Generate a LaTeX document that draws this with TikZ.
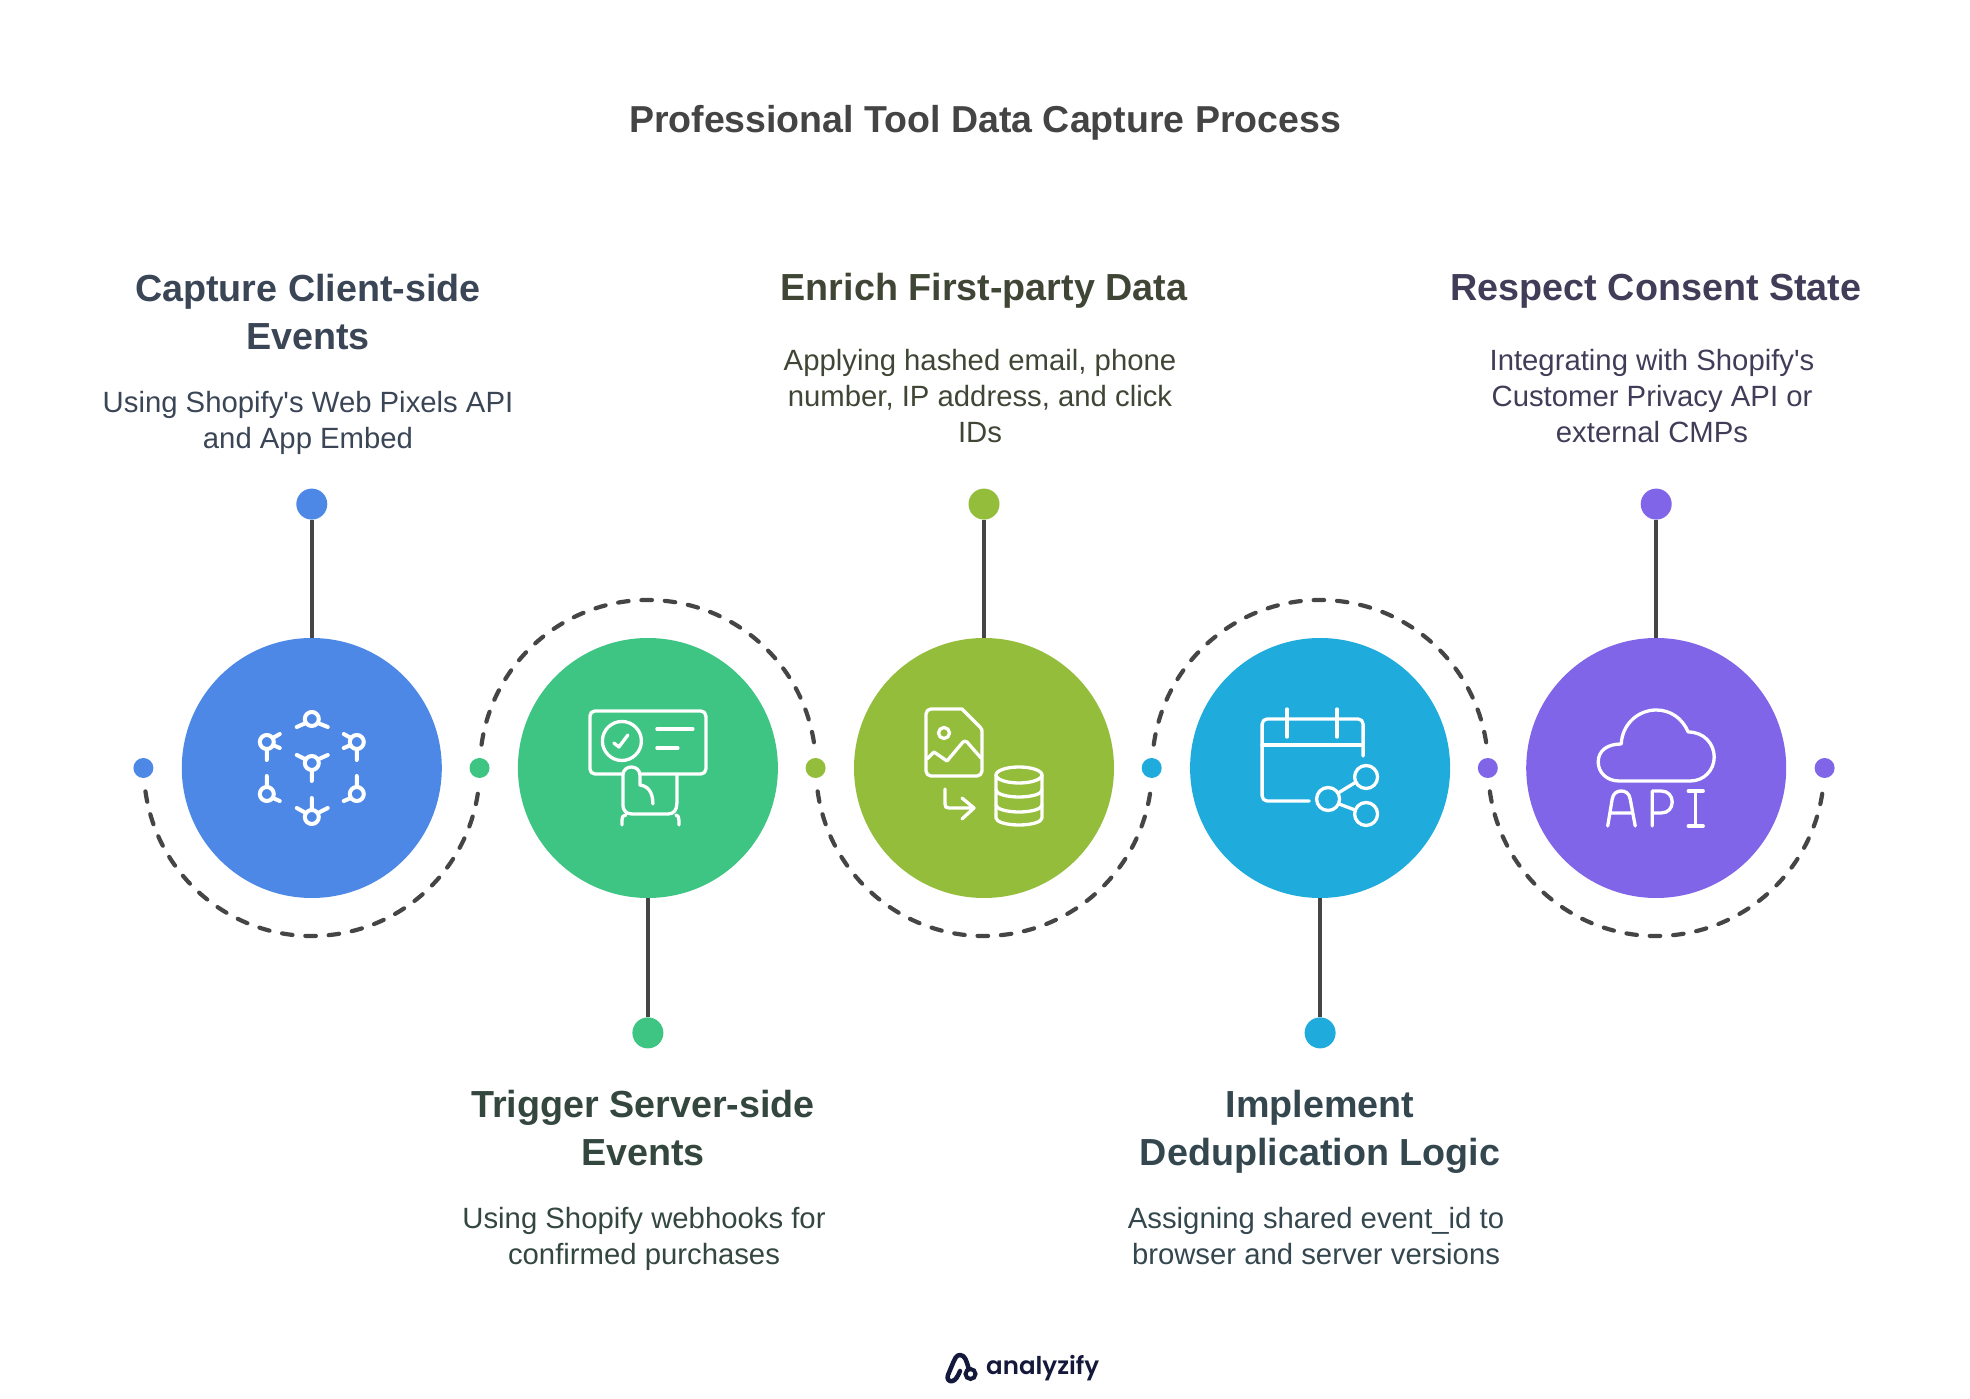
\documentclass[tikz,border=0pt]{standalone}
\usepackage{xcolor}
\usepackage{fontspec}
\setmainfont{Liberation Sans}[Ligatures=TeXOff]
\newfontfamily\logofont{Poppins SemiBold}
\usetikzlibrary{positioning, calc}

\definecolor{capBlue}{HTML}{4E88E7}
\definecolor{trigGreen}{HTML}{3EC583}
\definecolor{enrichOlive}{HTML}{93BD3B}
\definecolor{dedupCyan}{HTML}{1FABDC}
\definecolor{consentPurple}{HTML}{8065E9}
\definecolor{lineGrey}{HTML}{454545}
\definecolor{titleGrey}{HTML}{444444}
\definecolor{capText}{HTML}{3A4556}
\definecolor{trigText}{HTML}{34473F}
\definecolor{enrichText}{HTML}{3F4635}
\definecolor{dedupText}{HTML}{34474F}
\definecolor{consentText}{HTML}{413D58}
\definecolor{logoNavy}{HTML}{14183A}

\begin{document}
\begin{tikzpicture}[
    x=1pt, y=1pt,
    hub/.style={circle, minimum size=260pt, inner sep=0pt},
    tipdot/.style={circle, minimum size=31pt, inner sep=0pt},
    axisdot/.style={circle, minimum size=20pt, inner sep=0pt},
    stem/.style={draw=lineGrey, line width=4.2pt},
    dashlink/.style={draw=lineGrey, line width=4.2pt, line cap=round, dash pattern=on 10.5pt off 12.9pt},
    icon/.style={draw=white, line width=3.3pt, line cap=round, line join=round},
    headtext/.style={anchor=north, align=center, inner sep=0pt, font=\fontsize{37.7}{48}\selectfont\bfseries, execute at begin node=\strut, execute at end node=\strut},
    bodytext/.style={anchor=north, align=center, inner sep=0pt, font=\fontsize{29.3}{36}\selectfont, execute at begin node=\strut, execute at end node=\strut}
]
    \useasboundingbox (0,0) rectangle (1970,1398);

    % Title
    \node[font=\fontsize{37.5}{44}\selectfont\bfseries, text=titleGrey, inner sep=0pt] (title) at (985,1275) {Professional Tool Data Capture Process};

    % Circles
    \node[hub, fill=capBlue] (capture) at (311.8,630) {};
    \node[hub, fill=trigGreen, right=75.7pt of capture] (trigger) {};
    \node[hub, fill=enrichOlive, right=75.7pt of trigger] (enrich) {};
    \node[hub, fill=dedupCyan, right=75.7pt of enrich] (dedup) {};
    \node[hub, fill=consentPurple, right=75.7pt of dedup] (consent) {};

    % Small dots on the axis
    \node[axisdot, fill=capBlue, left=28pt of capture] (captureLeft) {};
    \node[axisdot, fill=trigGreen, left=28pt of trigger] (triggerLeft) {};
    \node[axisdot, fill=enrichOlive, left=28pt of enrich] (enrichLeft) {};
    \node[axisdot, fill=dedupCyan, left=28pt of dedup] (dedupLeft) {};
    \node[axisdot, fill=consentPurple, left=28pt of consent] (consentLeft) {};
    \node[axisdot, fill=consentPurple, right=28pt of consent] (consentRight) {};

    % Dashed arcs
    \draw[dashlink] ($(capture)+(188:168pt)$) arc[start angle=188, end angle=352, radius=168pt];
    \draw[dashlink] ($(trigger)+(172:168pt)$) arc[start angle=172, end angle=8, radius=168pt];
    \draw[dashlink] ($(enrich)+(188:168pt)$) arc[start angle=188, end angle=352, radius=168pt];
    \draw[dashlink] ($(dedup)+(172:168pt)$) arc[start angle=172, end angle=8, radius=168pt];
    \draw[dashlink] ($(consent)+(188:168pt)$) arc[start angle=188, end angle=352, radius=168pt];

    % Tips and stems
    \node[tipdot, fill=capBlue, above=118pt of capture] (captureTip) {};
    \node[tipdot, fill=trigGreen, below=119pt of trigger] (triggerTip) {};
    \node[tipdot, fill=enrichOlive, above=118pt of enrich] (enrichTip) {};
    \node[tipdot, fill=dedupCyan, below=119pt of dedup] (dedupTip) {};
    \node[tipdot, fill=consentPurple, above=118pt of consent] (consentTip) {};
    \draw[stem] (capture) -- (captureTip);
    \draw[stem] (trigger) -- (triggerTip);
    \draw[stem] (enrich) -- (enrichTip);
    \draw[stem] (dedup) -- (dedupTip);
    \draw[stem] (consent) -- (consentTip);

    % Labels
    \node[headtext, text=capText] (captureHead) at (308,1124.2) {Capture Client-side\\Events};
    \node[bodytext, text=capText, below=27.5pt of captureHead] (captureBody) {Using Shopify's Web Pixels API\\and App Embed};
    \node[headtext, text=trigText] (triggerHead) at (643,308) {Trigger Server-side\\Events};
    \node[bodytext, text=trigText, below=27pt of triggerHead, xshift=1pt] (triggerBody) {Using Shopify webhooks for\\confirmed purchases};
    \node[headtext, text=enrichText] (enrichHead) at (984,1131.5) {Enrich First-party Data};
    \node[bodytext, text=enrichText, below=34.5pt of enrichHead, xshift=-4pt] (enrichBody) {Applying hashed email, phone\\number, IP address, and click\\IDs};
    \node[headtext, text=dedupText] (dedupHead) at (1320,308) {Implement\\Deduplication Logic};
    \node[bodytext, text=dedupText, below=27pt of dedupHead, xshift=-4pt] (dedupBody) {Assigning shared event\_id to\\browser and server versions};
    \node[headtext, text=consentText] (consentHead) at (1656,1131.5) {Respect Consent State};
    \node[bodytext, text=consentText, below=34.5pt of consentHead, xshift=-4pt] (consentBody) {Integrating with Shopify's\\Customer Privacy API or\\external CMPs};

    % Icon: network
    \begin{scope}[shift={(capture.center)}, icon/.append style={line width=4pt}]
        \draw[icon] (0,5) circle[radius=7] (-15,13) -- (-6,8.5) (16,13) -- (6,8.5) (0,-13) -- (0,-2);
        \draw[icon] (0,49) circle[radius=7] (-15,41) -- (-6,45) (16,41) -- (6,45);
        \draw[icon] (0,-49) circle[radius=7] (0,-30) -- (0,-42) (-15,-40) -- (-6,-45) (16,-40) -- (6,-45);
        \draw[icon] (-45,26) circle[radius=7] (-45,8) -- (-45,19) (-32,34) -- (-39,30) (-32,20) -- (-39,23);
        \draw[icon] (45,26) circle[radius=7] (45,8) -- (45,19) (32,34) -- (39,30) (32,20) -- (39,23);
        \draw[icon] (-45,-26) circle[radius=7] (-45,-8) -- (-45,-19) (-32,-33) -- (-39,-30);
        \draw[icon] (45,-26) circle[radius=7] (45,-8) -- (45,-19) (32,-33) -- (39,-30);
    \end{scope}

    % Icon: screen and hand
    \begin{scope}[shift={(trigger.center)}]
        \draw[icon] (-25,-6) -- (-53,-6) arc[start angle=270, end angle=180, radius=5] -- (-58,52) arc[start angle=180, end angle=90, radius=5] -- (53,57) arc[start angle=90, end angle=0, radius=5] -- (58,-1) arc[start angle=0, end angle=-90, radius=5] -- (-8,-6);
        \draw[icon] (-26,27) circle[radius=19.5];
        \draw[icon] (-34,25) -- (-29,21) -- (-20,33);
        \draw[icon] (9,39) -- (45,39) (9,20) -- (30,20);
        \draw[icon] (29,-7) -- (29,-35) .. controls (29,-42) and (26,-46) .. (20,-46) -- (-16,-46) .. controls (-22,-46) and (-25,-42) .. (-25,-37) -- (-25,-7) .. controls (-25,-2) and (-21,1) .. (-16.5,1) .. controls (-12,1) and (-8,-2) .. (-8,-7) -- (-8,-17) .. controls (0,-18) and (5,-24) .. (5,-36);
        \draw[icon] (-26,-57) -- (-26,-52) .. controls (-26,-49) and (-25,-47) .. (-22,-47) (31,-57) -- (31,-52) .. controls (31,-49) and (30,-47) .. (28,-47);
    \end{scope}

    % Icon: image file and database
    \begin{scope}[shift={(enrich.center)}]
        \draw[icon] (-22,59) -- (-53,59) arc[start angle=90, end angle=180, radius=5] -- (-58,-3) arc[start angle=180, end angle=270, radius=5] -- (-7,-8) arc[start angle=270, end angle=360, radius=5] -- (-2,36) .. controls (-2,38) and (-2,39) .. (-4,41) -- cycle;
        \draw[icon] (-40,35) circle[radius=5.5];
        \draw[icon] (-57,9) -- (-50,16) -- (-37,7) -- (-21,26) .. controls (-20,27) and (-18,27) .. (-17,26) -- (-3,10);
        \draw[icon] (-39,-21) -- (-39,-36) .. controls (-39,-39) and (-38,-40) .. (-35,-40) -- (-10,-40) (-22,-30) -- (-10,-40) -- (-22,-51);
        \draw[icon] (35,-7) ellipse[x radius=23, y radius=8];
        \draw[icon] (12,-7) -- (12,-50) arc[start angle=180, end angle=360, x radius=23, y radius=7] -- (58,-7);
        \draw[icon] (12,-22) arc[start angle=180, end angle=360, x radius=23, y radius=7];
        \draw[icon] (12,-37) arc[start angle=180, end angle=360, x radius=23, y radius=7];
    \end{scope}

    % Icon: calendar and share
    \begin{scope}[shift={(dedup.center)}]
        \draw[icon] (-11,-33) -- (-53,-33) arc[start angle=270, end angle=180, radius=5] -- (-58,44) arc[start angle=180, end angle=90, radius=5] -- (38,49) arc[start angle=90, end angle=0, radius=5] -- (43,12);
        \draw[icon] (-58,23) -- (43,23);
        \draw[icon] (-33,59) -- (-33,31) (17,59) -- (17,31);
        \draw[icon] (46,-9) circle[radius=11.5] (8,-31) circle[radius=11.5] (46,-46) circle[radius=11.5];
        \draw[icon] (18,-25) -- (36,-14) (19,-36) -- (35,-42);
    \end{scope}

    % Icon: cloud and API letters
    \begin{scope}[shift={(consent.center)}]
        \draw[icon] (-37,-13) -- (34,-13) .. controls (48,-13) and (58,-2) .. (58,11) .. controls (58,24) and (48,36) .. (32,36) .. controls (26,50) and (14,58) .. (0,58) .. controls (-18,58) and (-34,44) .. (-35,24) .. controls (-48,24) and (-58,18) .. (-58,6) .. controls (-58,-4) and (-50,-13) .. (-37,-13) -- cycle;
        \draw[icon] (-48.5,-58) -- (-44,-31) .. controls (-43,-25) and (-39,-23) .. (-35,-23) .. controls (-31,-23) and (-27,-25) .. (-26,-31) -- (-21,-58) (-46,-45) -- (-24,-45);
        \draw[icon] (-4,-58) -- (-4,-23) -- (5,-23) .. controls (12,-23) and (16,-28) .. (16,-34) .. controls (16,-40) and (12,-45) .. (5,-45) -- (-4,-45);
        \draw[icon] (32,-23) -- (47,-23) (39.5,-23) -- (39.5,-58) (32,-58) -- (47,-58);
    \end{scope}

    % Logo
    \draw[logoNavy, line width=4.5pt, line cap=round, line join=round] (968.5,30) .. controls (966.5,37) and (965,43) .. (960,43) .. controls (956,43) and (955,39) .. (953,35) -- (948,23) .. controls (946.5,19) and (949,16) .. (952.5,17) .. controls (955.5,17.5) and (958,22) .. (960,27);
    \draw[logoNavy, line width=4pt] (970.5,24) circle[radius=5];
    \node[font=\logofont\fontsize{24.5}{26}\selectfont, text=logoNavy, inner sep=0pt, anchor=base west] (logoText) at (986,24) {analyzify};
\end{tikzpicture}
\end{document}
